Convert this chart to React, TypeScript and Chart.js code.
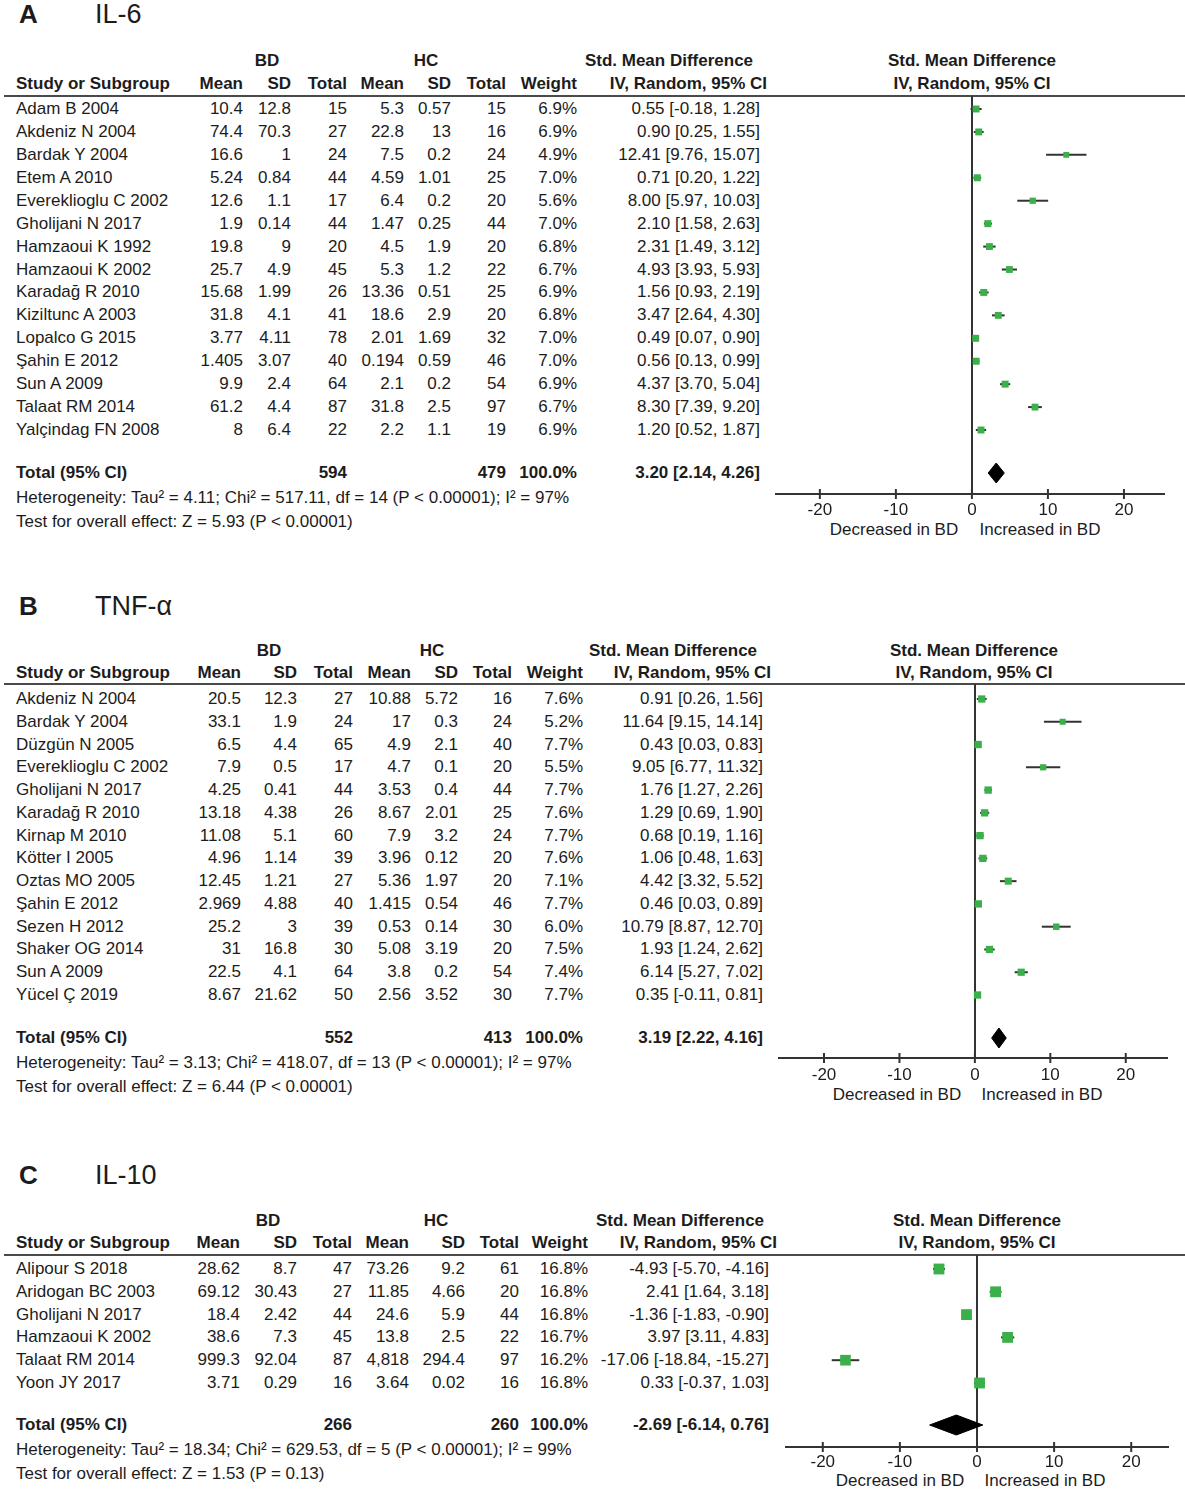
import React, { useEffect, useRef } from "react";
import { Chart, registerables } from "chart.js";

Chart.register(...registerables);

const FONT = '"Liberation Sans", Arial, Helvetica, sans-serif';
const GREEN = "#3bb04a";
const INK = "#1c1c1c";
const RULE = "#4a4a4a";

const AXIS_TICKS = [-20, -10, 0, 10, 20];
const AXIS_LEFT_LABEL = "Decreased in BD";
const AXIS_RIGHT_LABEL = "Increased in BD";

// ---------- Panel A: IL-6 ----------
const IL6_STUDIES = [
  "Adam B 2004", "Akdeniz N 2004", "Bardak Y 2004", "Etem A 2010", "Evereklioglu C 2002",
  "Gholijani N 2017", "Hamzaoui K 1992", "Hamzaoui K 2002", "Karadağ R 2010", "Kiziltunc A 2003",
  "Lopalco G 2015", "Şahin E 2012", "Sun A 2009", "Talaat RM 2014", "Yalçindag FN 2008",
];
const IL6_BD_MEAN = [10.4, 74.4, 16.6, 5.24, 12.6, 1.9, 19.8, 25.7, 15.68, 31.8, 3.77, 1.405, 9.9, 61.2, 8];
const IL6_BD_SD = [12.8, 70.3, 1, 0.84, 1.1, 0.14, 9, 4.9, 1.99, 4.1, 4.11, 3.07, 2.4, 4.4, 6.4];
const IL6_BD_N = [15, 27, 24, 44, 17, 44, 20, 45, 26, 41, 78, 40, 64, 87, 22];
const IL6_HC_MEAN = [5.3, 22.8, 7.5, 4.59, 6.4, 1.47, 4.5, 5.3, 13.36, 18.6, 2.01, 0.194, 2.1, 31.8, 2.2];
const IL6_HC_SD = [0.57, 13, 0.2, 1.01, 0.2, 0.25, 1.9, 1.2, 0.51, 2.9, 1.69, 0.59, 0.2, 2.5, 1.1];
const IL6_HC_N = [15, 16, 24, 25, 20, 44, 20, 22, 25, 20, 32, 46, 54, 97, 19];
const IL6_WEIGHT = [6.9, 6.9, 4.9, 7.0, 5.6, 7.0, 6.8, 6.7, 6.9, 6.8, 7.0, 7.0, 6.9, 6.7, 6.9];
const IL6_SMD = [0.55, 0.9, 12.41, 0.71, 8.0, 2.1, 2.31, 4.93, 1.56, 3.47, 0.49, 0.56, 4.37, 8.3, 1.2];
const IL6_LOWER = [-0.18, 0.25, 9.76, 0.2, 5.97, 1.58, 1.49, 3.93, 0.93, 2.64, 0.07, 0.13, 3.7, 7.39, 0.52];
const IL6_UPPER = [1.28, 1.55, 15.07, 1.22, 10.03, 2.63, 3.12, 5.93, 2.19, 4.3, 0.9, 0.99, 5.04, 9.2, 1.87];
const IL6_TOTAL_N = [594, 479];
const IL6_POOLED = [3.2, 2.14, 4.26];
const IL6_HETEROGENEITY = "Heterogeneity: Tau² = 4.11; Chi² = 517.11, df = 14 (P < 0.00001); I² = 97%";
const IL6_OVERALL = "Test for overall effect: Z = 5.93 (P < 0.00001)";

// ---------- Panel B: TNF-α ----------
const TNF_STUDIES = [
  "Akdeniz N 2004", "Bardak Y 2004", "Düzgün N 2005", "Evereklioglu C 2002", "Gholijani N 2017",
  "Karadağ R 2010", "Kirnap M 2010", "Kötter I 2005", "Oztas MO 2005", "Şahin E 2012",
  "Sezen H 2012", "Shaker OG 2014", "Sun A 2009", "Yücel Ç 2019",
];
const TNF_BD_MEAN = [20.5, 33.1, 6.5, 7.9, 4.25, 13.18, 11.08, 4.96, 12.45, 2.969, 25.2, 31, 22.5, 8.67];
const TNF_BD_SD = [12.3, 1.9, 4.4, 0.5, 0.41, 4.38, 5.1, 1.14, 1.21, 4.88, 3, 16.8, 4.1, 21.62];
const TNF_BD_N = [27, 24, 65, 17, 44, 26, 60, 39, 27, 40, 39, 30, 64, 50];
const TNF_HC_MEAN = [10.88, 17, 4.9, 4.7, 3.53, 8.67, 7.9, 3.96, 5.36, 1.415, 0.53, 5.08, 3.8, 2.56];
const TNF_HC_SD = [5.72, 0.3, 2.1, 0.1, 0.4, 2.01, 3.2, 0.12, 1.97, 0.54, 0.14, 3.19, 0.2, 3.52];
const TNF_HC_N = [16, 24, 40, 20, 44, 25, 24, 20, 20, 46, 30, 20, 54, 30];
const TNF_WEIGHT = [7.6, 5.2, 7.7, 5.5, 7.7, 7.6, 7.7, 7.6, 7.1, 7.7, 6.0, 7.5, 7.4, 7.7];
const TNF_SMD = [0.91, 11.64, 0.43, 9.05, 1.76, 1.29, 0.68, 1.06, 4.42, 0.46, 10.79, 1.93, 6.14, 0.35];
const TNF_LOWER = [0.26, 9.15, 0.03, 6.77, 1.27, 0.69, 0.19, 0.48, 3.32, 0.03, 8.87, 1.24, 5.27, -0.11];
const TNF_UPPER = [1.56, 14.14, 0.83, 11.32, 2.26, 1.9, 1.16, 1.63, 5.52, 0.89, 12.7, 2.62, 7.02, 0.81];
const TNF_TOTAL_N = [552, 413];
const TNF_POOLED = [3.19, 2.22, 4.16];
const TNF_HETEROGENEITY = "Heterogeneity: Tau² = 3.13; Chi² = 418.07, df = 13 (P < 0.00001); I² = 97%";
const TNF_OVERALL = "Test for overall effect: Z = 6.44 (P < 0.00001)";

// ---------- Panel C: IL-10 ----------
const IL10_STUDIES = [
  "Alipour S 2018", "Aridogan BC 2003", "Gholijani N 2017", "Hamzaoui K 2002", "Talaat RM 2014", "Yoon JY 2017",
];
const IL10_BD_MEAN = [28.62, 69.12, 18.4, 38.6, 999.3, 3.71];
const IL10_BD_SD = [8.7, 30.43, 2.42, 7.3, 92.04, 0.29];
const IL10_BD_N = [47, 27, 44, 45, 87, 16];
const IL10_HC_MEAN = [73.26, 11.85, 24.6, 13.8, 4818, 3.64];
const IL10_HC_SD = [9.2, 4.66, 5.9, 2.5, 294.4, 0.02];
const IL10_HC_N = [61, 20, 44, 22, 97, 16];
const IL10_WEIGHT = [16.8, 16.8, 16.8, 16.7, 16.2, 16.8];
const IL10_SMD = [-4.93, 2.41, -1.36, 3.97, -17.06, 0.33];
const IL10_LOWER = [-5.7, 1.64, -1.83, 3.11, -18.84, -0.37];
const IL10_UPPER = [-4.16, 3.18, -0.9, 4.83, -15.27, 1.03];
const IL10_TOTAL_N = [266, 260];
const IL10_POOLED = [-2.69, -6.14, 0.76];
const IL10_HETEROGENEITY = "Heterogeneity: Tau² = 18.34; Chi² = 629.53, df = 5 (P < 0.00001); I² = 99%";
const IL10_OVERALL = "Test for overall effect: Z = 1.53 (P = 0.13)";

// ---------- layout ----------
type Layout = {
  titleY: number; h1Y: number; h2Y: number; lineY: number; y0: number; dy: number;
  totalY: number; hetY: number; testY: number; axisY: number; axisL: number; axisR: number;
  xMin: number; xMax: number; cols: number[]; ciHeadR: number; smdHeadC: number;
  bdC: number; hcC: number; plotHeadC: number; decC: number; incC: number; labelY: number; tickPad: number;
};

type Panel = {
  letter: string; name: string; studies: string[]; bdMean: number[]; bdSd: number[]; bdN: number[];
  hcMean: number[]; hcSd: number[]; hcN: number[]; weight: number[]; smd: number[];
  lower: number[]; upper: number[]; totalN: number[]; pooled: number[]; het: string; overall: string;
  L: Layout;
};

const PANELS: Panel[] = [
  {
    letter: "A", name: "IL-6", studies: IL6_STUDIES, bdMean: IL6_BD_MEAN, bdSd: IL6_BD_SD, bdN: IL6_BD_N,
    hcMean: IL6_HC_MEAN, hcSd: IL6_HC_SD, hcN: IL6_HC_N, weight: IL6_WEIGHT, smd: IL6_SMD,
    lower: IL6_LOWER, upper: IL6_UPPER, totalN: IL6_TOTAL_N, pooled: IL6_POOLED,
    het: IL6_HETEROGENEITY, overall: IL6_OVERALL,
    L: {
      titleY: 14, h1Y: 61, h2Y: 84, lineY: 96, y0: 109, dy: 22.93, totalY: 473, hetY: 498, testY: 522,
      axisY: 494, axisL: 775, axisR: 1165, xMin: -25.9, xMax: 25.4,
      cols: [243, 291, 347, 404, 451, 506, 577, 760], ciHeadR: 767, smdHeadC: 669,
      bdC: 267, hcC: 426, plotHeadC: 972, decC: 894, incC: 1040, labelY: 530, tickPad: 6,
    },
  },
  {
    letter: "B", name: "TNF-α", studies: TNF_STUDIES, bdMean: TNF_BD_MEAN, bdSd: TNF_BD_SD, bdN: TNF_BD_N,
    hcMean: TNF_HC_MEAN, hcSd: TNF_HC_SD, hcN: TNF_HC_N, weight: TNF_WEIGHT, smd: TNF_SMD,
    lower: TNF_LOWER, upper: TNF_UPPER, totalN: TNF_TOTAL_N, pooled: TNF_POOLED,
    het: TNF_HETEROGENEITY, overall: TNF_OVERALL,
    L: {
      titleY: 606, h1Y: 651, h2Y: 673, lineY: 684, y0: 699, dy: 22.77, totalY: 1038, hetY: 1063, testY: 1087,
      axisY: 1058, axisL: 778, axisR: 1168, xMin: -26.1, xMax: 25.6,
      cols: [241, 297, 353, 411, 458, 512, 583, 763], ciHeadR: 771, smdHeadC: 673,
      bdC: 269, hcC: 432, plotHeadC: 974, decC: 897, incC: 1042, labelY: 1095, tickPad: 7,
    },
  },
  {
    letter: "C", name: "IL-10", studies: IL10_STUDIES, bdMean: IL10_BD_MEAN, bdSd: IL10_BD_SD, bdN: IL10_BD_N,
    hcMean: IL10_HC_MEAN, hcSd: IL10_HC_SD, hcN: IL10_HC_N, weight: IL10_WEIGHT, smd: IL10_SMD,
    lower: IL10_LOWER, upper: IL10_UPPER, totalN: IL10_TOTAL_N, pooled: IL10_POOLED,
    het: IL10_HETEROGENEITY, overall: IL10_OVERALL,
    L: {
      titleY: 1175, h1Y: 1221, h2Y: 1243, lineY: 1255, y0: 1269, dy: 22.8, totalY: 1425, hetY: 1450, testY: 1474,
      axisY: 1447, axisL: 785, axisR: 1169, xMin: -24.9, xMax: 24.9,
      cols: [240, 297, 352, 409, 465, 519, 588, 769], ciHeadR: 777, smdHeadC: 680,
      bdC: 268, hcC: 436, plotHeadC: 977, decC: 900, incC: 1045, labelY: 1481, tickPad: 5,
    },
  },
];

const AXIS_BAND = 40;
const DIAMOND_HALF_PX = 10;
const TICK_HALF_PX = 5;

const fmtNum = (v: number) => v.toLocaleString("en-US", { maximumFractionDigits: 3 });
const fmtCI = (e: number, lo: number, hi: number) => `${e.toFixed(2)} [${lo.toFixed(2)}, ${hi.toFixed(2)}]`;

type TProps = { x: number; y: number; text: string; align?: "left" | "right" | "center"; bold?: boolean; size?: number };
const T = ({ x, y, text, align = "left", bold = false, size = 17 }: TProps) => {
  const w = 600;
  const lh = Math.round(size * 1.2);
  const left = align === "left" ? x : align === "right" ? x - w : x - w / 2;
  return (
    <div
      style={{
        position: "absolute", left, top: y - lh / 2, width: w, height: lh, lineHeight: `${lh}px`,
        fontSize: size, fontWeight: bold ? 700 : 400, textAlign: align, whiteSpace: "nowrap",
        color: INK, fontFamily: FONT,
      }}
    >
      {text}
    </div>
  );
};

function Forest({ p }: { p: Panel }) {
  const ref = useRef<HTMLCanvasElement>(null);
  const L = p.L;
  const w = L.axisR - L.axisL;
  const h = L.axisY - L.lineY + AXIS_BAND;

  useEffect(() => {
    if (!ref.current) return;
    const yMin = (L.lineY - L.y0) / L.dy;
    const yMax = (L.axisY - L.y0) / L.dy;
    const tIdx = (L.totalY - L.y0) / L.dy;
    const half = DIAMOND_HALF_PX / L.dy;
    const datasets: any[] = [];
    // study point estimates (box size by weight)
    datasets.push({
      type: "scatter",
      data: p.smd.map((v, i) => ({ x: v, y: i })),
      pointStyle: "rect",
      pointRadius: p.weight.map((wt) => 1.87 * Math.sqrt(wt)),
      backgroundColor: GREEN,
      borderWidth: 0,
      order: 0,
    });
    // confidence intervals
    p.lower.forEach((lo, i) => {
      datasets.push({
        type: "line",
        data: [{ x: lo, y: i }, { x: p.upper[i], y: i }],
        borderColor: "#333",
        borderWidth: 2,
        pointRadius: 0,
        fill: false,
        order: 1,
      });
    });
    // pooled diamond
    const [pe, plo, phi] = p.pooled;
    datasets.push({
      type: "line",
      data: [
        { x: plo, y: tIdx }, { x: pe, y: tIdx - half }, { x: phi, y: tIdx }, { x: pe, y: tIdx + half }, { x: plo, y: tIdx },
      ],
      borderColor: "#000",
      borderWidth: 1,
      backgroundColor: "#000",
      fill: "shape",
      pointRadius: 0,
      tension: 0,
      order: 2,
    });
    // axis tick marks crossing the axis line
    datasets.push({
      type: "scatter",
      data: AXIS_TICKS.map((v) => ({ x: v, y: yMax })),
      pointStyle: "line",
      rotation: 90,
      pointRadius: TICK_HALF_PX,
      borderColor: "#333",
      borderWidth: 2,
      clip: false,
      order: 3,
    });

    const chart = new Chart(ref.current, {
      type: "scatter",
      data: { datasets },
      options: {
        animation: false,
        responsive: false,
        events: [],
        layout: { padding: 0, autoPadding: false },
        plugins: { legend: { display: false }, tooltip: { enabled: false } },
        scales: {
          x: {
            type: "linear",
            min: L.xMin,
            max: L.xMax,
            afterBuildTicks: (s: any) => {
              s.ticks = AXIS_TICKS.map((v) => ({ value: v }));
            },
            afterFit: (s: any) => {
              s.height = AXIS_BAND;
            },
            grid: {
              color: (c: any) => (c.tick && c.tick.value === 0 ? "#333" : "rgba(0,0,0,0)"),
              lineWidth: 2,
              drawTicks: false,
            },
            border: { display: true, color: "#333", width: 2 },
            ticks: {
              color: INK,
              font: { family: FONT, size: 17 },
              padding: L.tickPad,
              maxRotation: 0,
              autoSkip: false,
            },
          },
          y: { type: "linear", display: false, min: yMin, max: yMax, reverse: true },
        },
      } as any,
    });
    return () => chart.destroy();
  }, [p]);

  return (
    <canvas
      ref={ref}
      width={w}
      height={h}
      style={{ position: "absolute", left: L.axisL, top: L.lineY, width: w, height: h }}
    />
  );
}

function PanelView({ p }: { p: Panel }) {
  const L = p.L;
  const c = L.cols;
  const els: React.ReactNode[] = [];
  let k = 0;
  const add = (props: TProps) => els.push(<T key={k++} {...props} />);

  add({ x: 19, y: L.titleY, text: p.letter, bold: true, size: 26 });
  add({ x: 95, y: L.titleY, text: p.name, size: 27 });

  add({ x: L.bdC, y: L.h1Y, text: "BD", align: "center", bold: true });
  add({ x: L.hcC, y: L.h1Y, text: "HC", align: "center", bold: true });
  add({ x: L.smdHeadC, y: L.h1Y, text: "Std. Mean Difference", align: "center", bold: true });
  add({ x: L.plotHeadC, y: L.h1Y, text: "Std. Mean Difference", align: "center", bold: true });

  add({ x: 16, y: L.h2Y, text: "Study or Subgroup", bold: true });
  ["Mean", "SD", "Total", "Mean", "SD", "Total", "Weight"].forEach((t, i) =>
    add({ x: c[i], y: L.h2Y, text: t, align: "right", bold: true })
  );
  add({ x: L.ciHeadR, y: L.h2Y, text: "IV, Random, 95% CI", align: "right", bold: true });
  add({ x: L.plotHeadC, y: L.h2Y, text: "IV, Random, 95% CI", align: "center", bold: true });

  p.studies.forEach((s, i) => {
    const y = L.y0 + i * L.dy;
    add({ x: 16, y, text: s });
    const vals = [
      fmtNum(p.bdMean[i]), fmtNum(p.bdSd[i]), String(p.bdN[i]),
      fmtNum(p.hcMean[i]), fmtNum(p.hcSd[i]), String(p.hcN[i]),
      `${p.weight[i].toFixed(1)}%`, fmtCI(p.smd[i], p.lower[i], p.upper[i]),
    ];
    vals.forEach((v, j) => add({ x: c[j], y, text: v, align: "right" }));
  });

  add({ x: 16, y: L.totalY, text: "Total (95% CI)", bold: true });
  add({ x: c[2], y: L.totalY, text: String(p.totalN[0]), align: "right", bold: true });
  add({ x: c[5], y: L.totalY, text: String(p.totalN[1]), align: "right", bold: true });
  add({ x: c[6], y: L.totalY, text: "100.0%", align: "right", bold: true });
  add({ x: c[7], y: L.totalY, text: fmtCI(p.pooled[0], p.pooled[1], p.pooled[2]), align: "right", bold: true });
  add({ x: 16, y: L.hetY, text: p.het });
  add({ x: 16, y: L.testY, text: p.overall });

  add({ x: L.decC, y: L.labelY, text: AXIS_LEFT_LABEL, align: "center" });
  add({ x: L.incC, y: L.labelY, text: AXIS_RIGHT_LABEL, align: "center" });

  return (
    <>
      {els}
      <div style={{ position: "absolute", left: 4, top: L.lineY - 1, width: 1181, height: 2, background: RULE }} />
      <Forest p={p} />
    </>
  );
}

export default function App() {
  return (
    <div
      style={{
        position: "absolute", left: 0, top: 0, width: 1185, height: 1490, background: "#fff",
        overflow: "hidden", fontFamily: FONT,
      }}
    >
      {PANELS.map((p) => (
        <PanelView key={p.letter} p={p} />
      ))}
    </div>
  );
}
